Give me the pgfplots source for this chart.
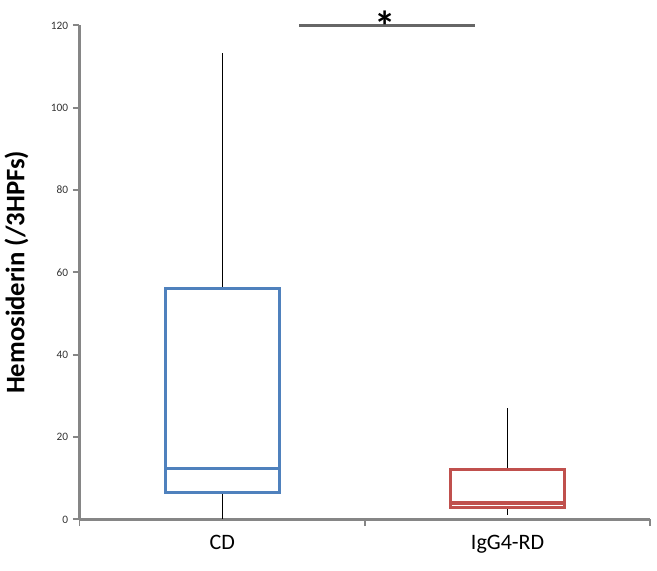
\documentclass[border=0pt]{standalone}
\usepackage{fontspec}
\setmainfont{Carlito}
\usepackage{pgfplots}
\pgfplotsset{compat=1.18}
\usepgfplotslibrary{statistics}
\definecolor{cdblue}{RGB}{79,129,189}
\definecolor{igred}{RGB}{192,80,77}
\definecolor{axgray}{RGB}{134,134,134}
\begin{document}
\begin{tikzpicture}
\begin{axis}[
    width=427.5pt, height=370pt, scale only axis,
    xmin=0, xmax=2, ymin=0, ymax=120,
    axis lines*=left,
    axis line style={axgray, line width=1.7pt},
    clip=false,
    xtick={0,1,2}, xticklabels={},
    extra x ticks={0.5,1.5},
    extra x tick labels={CD,IgG4-RD},
    extra x tick style={major tick length=0pt, tick label style={font=\fontsize{16.5}{18}\selectfont, black, yshift=-8pt}},
    ytick={0,20,...,120},
    tick align=outside,
    major tick length=5pt,
    tick style={axgray, line width=1.4pt},
    tick label style={font=\fontsize{8.5}{10}\selectfont, black!80},
    /pgf/number format/assume math mode=true,
    ylabel={\textbf{Hemosiderin (/3HPFs)}},
    ylabel style={font=\fontsize{20}{22}\selectfont, yshift=10pt},
    boxplot/draw direction=y,
    boxplot/box extend=0.4,
    boxplot/whisker extend=0,
    boxplot/every whisker/.style={black, line width=0.9pt},
    boxplot/every median/.style={line width=2.6pt},
    boxplot/every box/.style={line width=2.4pt},
]
\addplot[cdblue, line width=2.4pt, boxplot prepared={
    draw position=0.5,
    lower whisker=0, lower quartile=6.6, median=12.4,
    upper quartile=56, upper whisker=113.2}]
    coordinates {};
\addplot[igred, line width=2.4pt, boxplot prepared={
    draw position=1.5,
    lower whisker=1, lower quartile=2.8, median=4,
    upper quartile=12.2, upper whisker=27}]
    coordinates {};
\draw[black!60, line width=1.8pt] (axis cs:0.77,120) -- (axis cs:1.386,120);
\node[font=\fontsize{32}{32}\selectfont\bfseries, anchor=base] at (axis cs:1.07,116.2) {*};
\path (axis cs:0,120) ++(0,19pt) coordinate (tp);
\path (axis cs:2,0) ++(5pt,-38pt) coordinate (rp);
\path (tp) -- (rp);
\end{axis}
\end{tikzpicture}
\end{document}
